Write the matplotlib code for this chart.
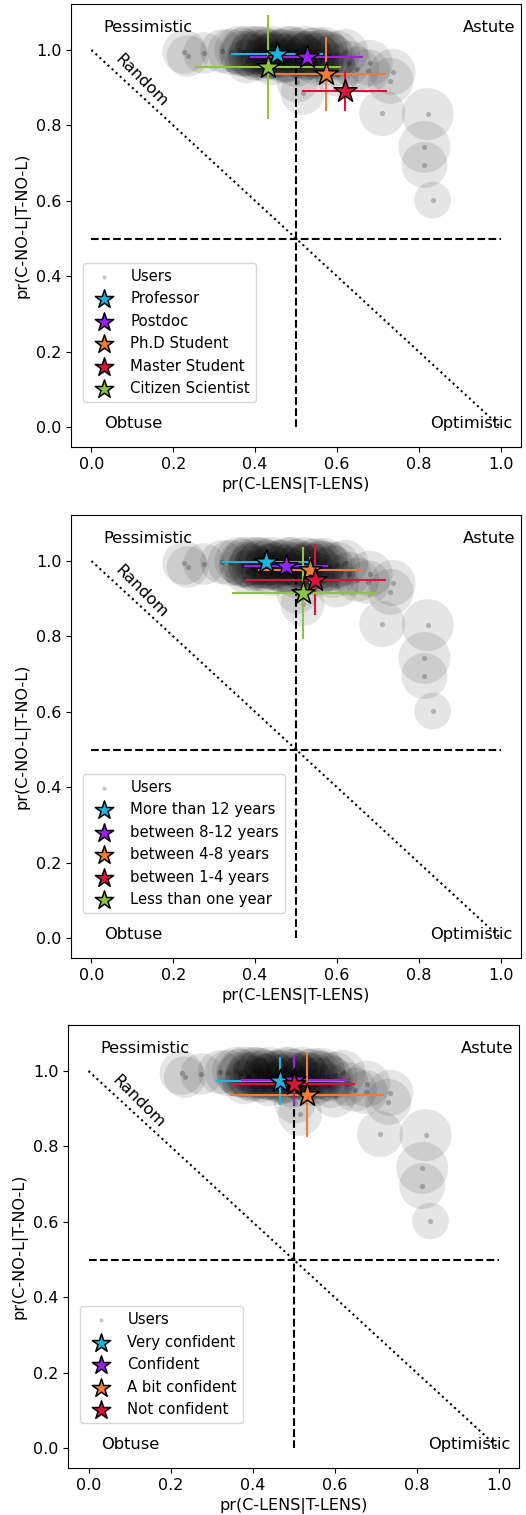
import matplotlib.pyplot as plt
import numpy as np

plt.rcParams['font.size'] = 11.5

# Пользователи (одинаковые на всех трёх панелях)
user_x = [0.227, 0.235, 0.275, 0.320,
          0.34, 0.36, 0.37, 0.38, 0.39, 0.40, 0.41, 0.42, 0.43, 0.44, 0.45, 0.46, 0.47,
          0.48, 0.49, 0.50, 0.51, 0.52, 0.53, 0.54, 0.55, 0.56, 0.57, 0.58, 0.60, 0.62,
          0.37, 0.39, 0.41, 0.43, 0.45, 0.47, 0.49, 0.51, 0.53, 0.55, 0.57, 0.59,
          0.40, 0.44, 0.48, 0.52, 0.56,
          0.38, 0.42, 0.44, 0.47, 0.50, 0.55, 0.59, 0.60, 0.65,
          0.503, 0.516,
          0.63, 0.68, 0.676, 0.736, 0.731, 0.711, 0.822, 0.814, 0.814, 0.834]
user_y = [0.995, 0.984, 0.992, 0.997,
          0.995, 1.0, 0.99, 0.998, 0.985, 1.0, 0.99, 0.995, 0.985, 1.0, 0.99, 0.995, 0.98,
          1.0, 0.99, 0.995, 0.985, 1.0, 0.99, 0.995, 0.985, 0.99, 1.0, 0.985, 0.99, 0.995,
          0.995, 0.99, 1.0, 0.995, 0.985, 0.995, 1.0, 0.99, 0.985, 1.0, 0.99, 0.98,
          0.98, 0.985, 0.975, 0.98, 0.975,
          0.97, 0.975, 0.965, 0.97, 0.96, 0.965, 0.96, 0.935, 0.95,
          0.916, 0.886,
          0.966, 0.966, 0.944, 0.942, 0.918, 0.833, 0.830, 0.743, 0.695, 0.602]
user_n = [1000, 900, 900, 1000,
          1100, 1200, 1100, 1300, 1100, 1200, 1200, 1300, 1100, 1200, 1200, 1100, 1200,
          1200, 1100, 1200, 1100, 1200, 1100, 1200, 1100, 1200, 1100, 1200, 1100, 1100,
          1200, 1100, 1200, 1100, 1200, 1100, 1200, 1100, 1200, 1100, 1200, 1100,
          1100, 1100, 1100, 1100, 1100,
          1000, 1000, 1000, 1000, 1000, 1000, 1000, 1000, 1000,
          900, 1000,
          1000, 1100, 1000, 1100, 1100, 1100, 1400, 1400, 1100, 700]

colors5 = ['#1fb4dd', '#9a1ff0', '#f57c30', '#dc143c', '#8cc63f']

# Панель 1: должность
pos_labels = ['Professor', 'Postdoc', 'Ph.D Student', 'Master Student', 'Citizen Scientist']
pos_x = [0.454, 0.526, 0.574, 0.619, 0.432]
pos_y = [0.989, 0.982, 0.936, 0.892, 0.956]
pos_xerr = [0.112, 0.138, 0.145, 0.104, 0.179]
pos_yerr = [0.015, 0.015, 0.099, 0.053, 0.138]

# Панель 2: опыт
exp_labels = ['More than 12 years', 'between 8-12 years', 'between 4-8 years',
              'between 1-4 years', 'Less than one year']
exp_x = [0.427, 0.476, 0.535, 0.547, 0.518]
exp_y = [0.997, 0.988, 0.976, 0.950, 0.916]
exp_xerr = [0.109, 0.103, 0.129, 0.172, 0.175]
exp_yerr = [0.015, 0.015, 0.035, 0.094, 0.122]

# Панель 3: уверенность
conf_labels = ['Very confident', 'Confident', 'A bit confident', 'Not confident']
conf_x = [0.467, 0.502, 0.533, 0.500]
conf_y = [0.973, 0.976, 0.936, 0.966]
conf_xerr = [0.157, 0.130, 0.188, 0.150]
conf_yerr = [0.063, 0.066, 0.112, 0.040]
conf_colors = ['#1fb4dd', '#9a1ff0', '#f57c30', '#dc143c']


def draw_panel(ax, labels, xs, ys, xerrs, yerrs, colors):
    ax.plot([0.5, 0.5], [0, 1], 'k--', lw=1.5, zorder=1)
    ax.plot([0, 1], [0.5, 0.5], 'k--', lw=1.5, zorder=1)
    ax.plot([0, 1], [1, 0], 'k:', lw=1.5, zorder=1)

    ax.scatter(user_x, user_y, s=user_n, color='k', alpha=0.1, lw=0, zorder=2)
    ax.scatter(user_x, user_y, s=14, color='k', alpha=0.22, lw=0, zorder=2, label='Users')

    for x, y, xe, ye, c in zip(xs, ys, xerrs, yerrs, colors):
        ax.errorbar(x, y, xerr=xe, yerr=ye, fmt='none', ecolor=c, elinewidth=1.5, zorder=3)
    for x, y, lab, c in zip(xs, ys, labels, colors):
        ax.scatter(x, y, marker='*', s=300, color=c, edgecolors='k', linewidths=1.1,
                   zorder=4, label=lab)

    ax.text(0.03, 1.06, 'Pessimistic', fontsize=11.7, va='center', ha='left')
    ax.text(1.037, 1.06, 'Astute', fontsize=11.7, va='center', ha='right')
    ax.text(0.03, 0.01, 'Obtuse', fontsize=11.7, va='center', ha='left')
    ax.text(1.03, 0.01, 'Optimistic', fontsize=11.7, va='center', ha='right')
    ax.text(0.122, 0.92, 'Random', fontsize=11.7, va='center', ha='center', rotation=-45)

    ax.set_xlim(-0.05, 1.05)
    ax.set_ylim(-0.053, 1.122)
    ax.set_xticks(np.arange(0, 1.01, 0.2))
    ax.set_yticks(np.arange(0, 1.01, 0.2))
    ax.set_xlabel('pr(C-LENS|T-LENS)')
    ax.set_ylabel('pr(C-NO-L|T-NO-L)')
    ax.legend(loc='lower left', bbox_to_anchor=(0.01, 0.085), markerscale=0.8, fontsize=10.7)


fig = plt.figure(figsize=(5.26, 15.15), dpi=100)
ax1 = fig.add_axes([71 / 526, 1 - 447 / 1515, 450 / 526, 443 / 1515])
ax2 = fig.add_axes([71 / 526, 1 - 958 / 1515, 450 / 526, 443 / 1515])
ax3 = fig.add_axes([68 / 526, 1 - 1468 / 1515, 451 / 526, 443 / 1515])

draw_panel(ax1, pos_labels, pos_x, pos_y, pos_xerr, pos_yerr, colors5)
draw_panel(ax2, exp_labels, exp_x, exp_y, exp_xerr, exp_yerr, colors5)
draw_panel(ax3, conf_labels, conf_x, conf_y, conf_xerr, conf_yerr, conf_colors)

plt.savefig('out.png', dpi=100)
